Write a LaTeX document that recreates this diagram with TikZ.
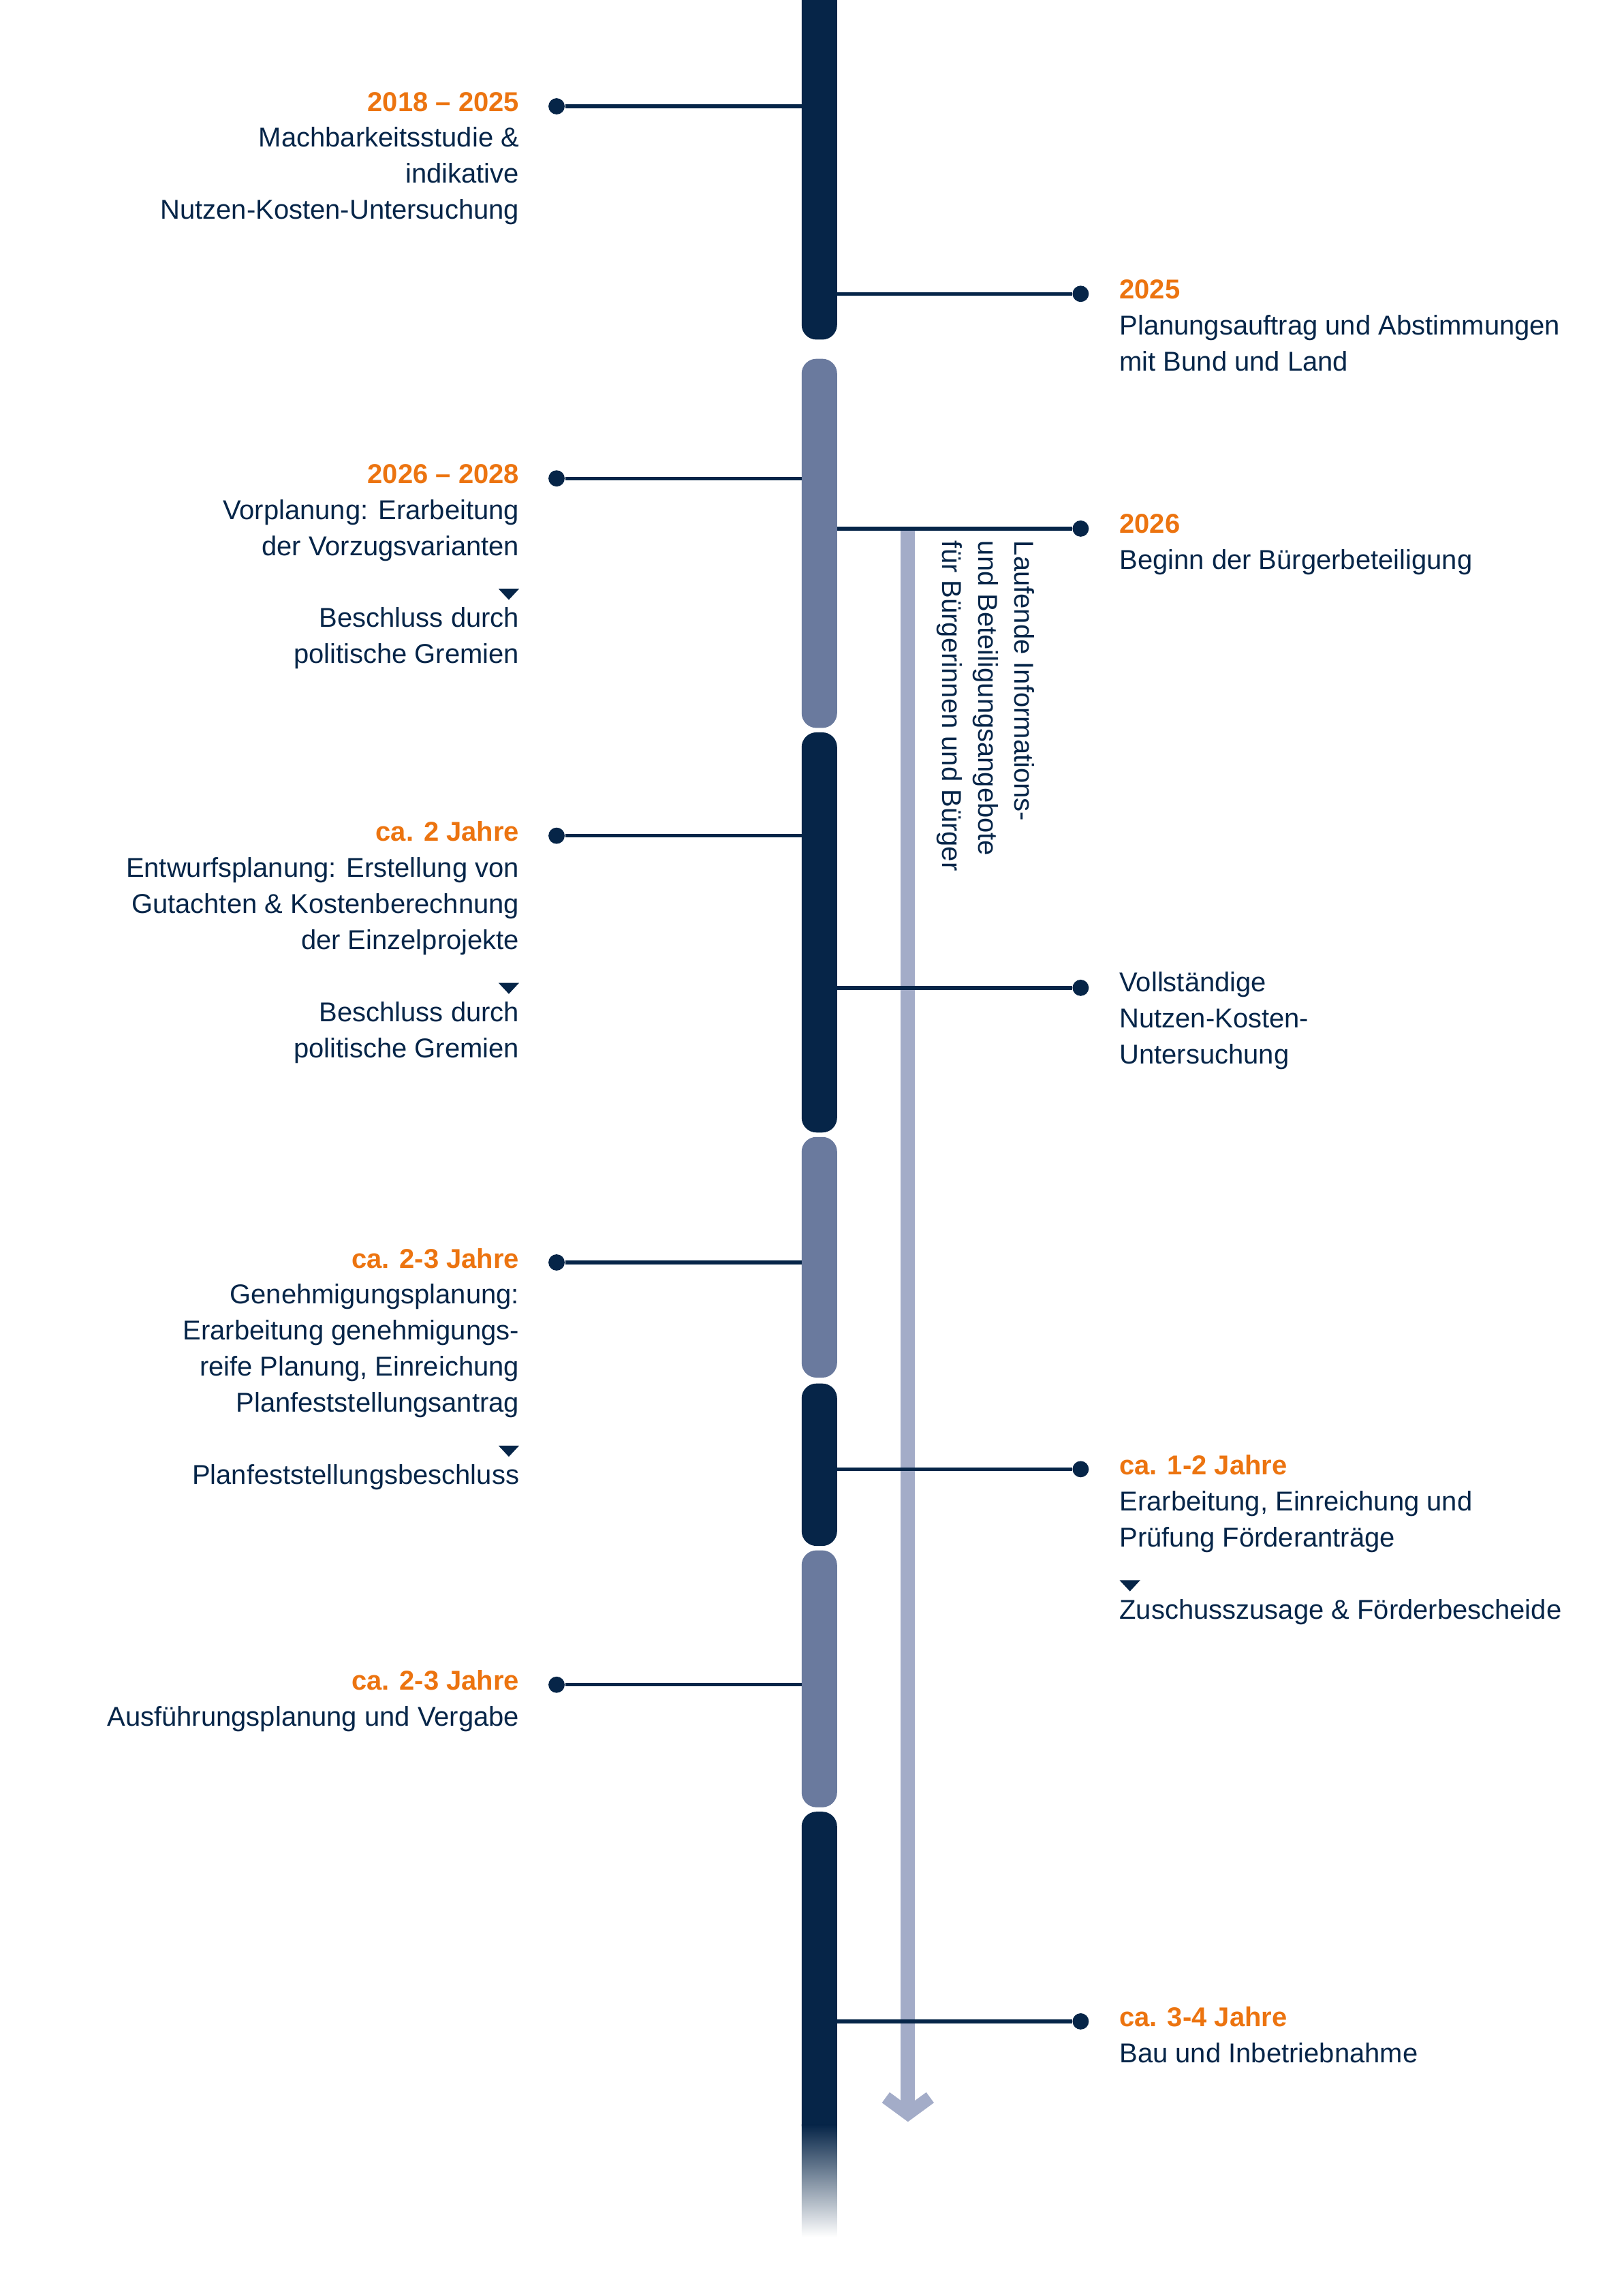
\documentclass[tikz,border=0pt]{standalone}
\usepackage{fontspec}
\setmainfont{Liberation Sans}
\usetikzlibrary{arrows.meta,positioning}
\definecolor{tlnavy}{RGB}{6,37,72}
\definecolor{tlslate}{RGB}{106,122,158}
\definecolor{tlorange}{RGB}{236,116,16}
\definecolor{tllight}{RGB}{163,172,200}
\newcommand{\tldown}{\tikz[x=1cm,y=1cm,baseline=-1pt]\fill[tlnavy] (0,0) -- (0.28,0) -- (0.14,-0.15) -- cycle;}
\newcommand{\tltitle}[1]{{\bfseries\color{tlorange}#1}}
\begin{document}
\begin{tikzpicture}[x=0.02cm,y=-0.02cm,
  dot/.style={circle, fill=tlnavy, inner sep=0pt, minimum size=0.22cm},
  conn/.style={draw=tlnavy, line width=1.4pt},
  ltext/.style={anchor=north east, inner sep=0pt, align=right, text=tlnavy,
    font=\fontsize{10.5}{13.9}\selectfont},
  rtext/.style={anchor=north west, inner sep=0pt, align=left, text=tlnavy,
    font=\fontsize{10.5}{13.9}\selectfont},
  seg/.style={rounded corners=0.2cm}]
\useasboundingbox (0,0) rectangle (1100,1555);
% bar segments
\fill[tlnavy] (543,0) -- (567,0) [rounded corners=0.2cm] -- (567,230) -- (543,230) [sharp corners] -- cycle;
\fill[tlslate, seg] (543,243) rectangle (567,493);
\fill[tlnavy, seg] (543,496) rectangle (567,767);
\fill[tlslate, seg] (543,770) rectangle (567,933);
\fill[tlnavy, seg] (543,937) rectangle (567,1047);
\fill[tlslate, seg] (543,1050) rectangle (567,1224);
\fill[tlnavy] (543,1440) [rounded corners=0.2cm] -- (543,1227) -- (567,1227) [sharp corners] -- (567,1440) -- cycle;
\shade[top color=tlnavy, bottom color=white] (543,1439) rectangle (567,1515);
% participation arrow
\coordinate (pstart) at (615,357);
\coordinate (pend) at (615,1437);
\draw[tllight, line width=5.5pt, -{Straight Barb[length=2.2mm,width=6mm,line width=5pt]}] (pstart) -- (pend);
\node[rotate=-90, anchor=north west, inner sep=0pt, align=left, text=tlnavy,
  font=\fontsize{10.5}{13.9}\selectfont] (ptext) at (701,366)
  {Laufende Informations-\\und Beteiligungsangebote\\für Bürgerinnen und Bürger};
% left entries
\foreach \n/\y in {l1/72, l2/324, l3/566, l4/855, l5/1141} {
  \node[dot] (\n) at (377,\y) {};
  \coordinate (\n b) at (543,\y);
  \draw[conn] (\n) -- (\n b);
}
\node[ltext] (t1) at (352,62) {\tltitle{2018 – 2025}\\Machbarkeitsstudie \&\\indikative\\Nutzen-Kosten-Untersuchung};
\node[ltext] (t2) at (352,314) {\tltitle{2026 – 2028}\\Vorplanung: Erarbeitung\\der Vorzugsvarianten\\\tldown\\Beschluss durch\\politische Gremien};
\node[ltext] (t3) at (352,556) {\tltitle{ca. 2 Jahre}\\Entwurfsplanung: Erstellung von\\Gutachten \& Kostenberechnung\\der Einzelprojekte\\\tldown\\Beschluss durch\\politische Gremien};
\node[ltext] (t4) at (352,845) {\tltitle{ca. 2-3 Jahre}\\Genehmigungsplanung:\\Erarbeitung genehmigungs-\\reife Planung, Einreichung\\Planfeststellungsantrag\\\tldown\\Planfeststellungsbeschluss};
\node[ltext] (t5) at (352,1131) {\tltitle{ca. 2-3 Jahre}\\Ausführungsplanung und Vergabe};
% right entries
\foreach \n/\y in {r1/199, r2/358, r3/669, r4/995, r5/1369} {
  \node[dot] (\n) at (732,\y) {};
  \coordinate (\n b) at (567,\y);
  \draw[conn] (\n b) -- (\n);
}
\node[rtext] (u1) at (758,189) {\tltitle{2025}\\Planungsauftrag und Abstimmungen\\mit Bund und Land};
\node[rtext] (u2) at (758,348) {\tltitle{2026}\\Beginn der Bürgerbeteiligung};
\node[rtext] (u3) at (758,658) {Vollständige\\Nutzen-Kosten-\\Untersuchung};
\node[rtext] (u4) at (758,985) {\tltitle{ca. 1-2 Jahre}\\Erarbeitung, Einreichung und\\Prüfung Förderanträge\\\tldown\\Zuschusszusage \& Förderbescheide};
\node[rtext] (u5) at (758,1359) {\tltitle{ca. 3-4 Jahre}\\Bau und Inbetriebnahme};
\end{tikzpicture}
\end{document}
